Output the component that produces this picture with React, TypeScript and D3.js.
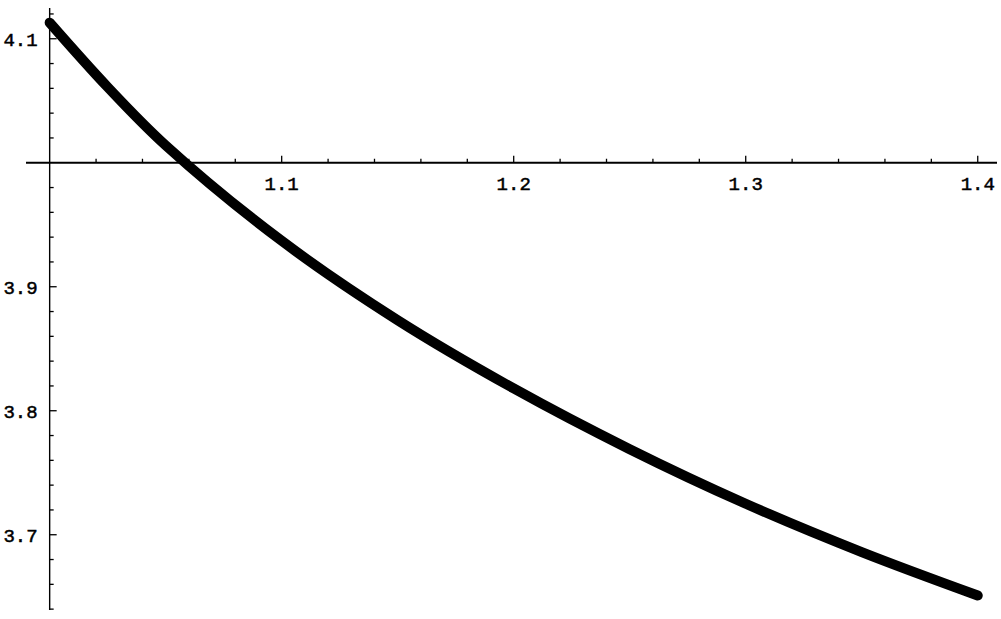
import React, { useEffect, useRef } from 'react';
import * as d3 from 'd3';

// Values
const xValues = [1.0, 1.025, 1.05, 1.1, 1.15, 1.2, 1.25, 1.3, 1.35, 1.4];
const yValues = [4.113, 4.061, 4.014, 3.937, 3.873, 3.818, 3.769, 3.725, 3.686, 3.651];

const xTickLabels = [1.1, 1.2, 1.3, 1.4];
const yTickLabels = [4.1, 3.9, 3.8, 3.7];

const App: React.FC = () => {
  const chartRef = useRef<SVGSVGElement | null>(null);

  useEffect(() => {
    if (!chartRef.current) return;
    d3.select(chartRef.current).selectAll('*').remove();

    const svgWidth = 1001;
    const svgHeight = 619;

    const svg = d3.select(chartRef.current)
      .attr('width', svgWidth)
      .attr('height', svgHeight);

    // Scales (pixel ranges match the plot frame)
    const xScale = d3.scaleLinear().domain([0.9898, 1.4083]).range([26, 997]);
    const yScale = d3.scaleLinear().domain([3.6393, 4.1248]).range([610, 8]);

    const x0 = xScale(1.0);
    const y0 = yScale(4.0);

    const fontFamily = '"Liberation Mono", "DejaVu Sans Mono", monospace';

    // X axis line (at y = 4.0)
    svg.append('line')
      .attr('x1', xScale.range()[0])
      .attr('x2', xScale.range()[1])
      .attr('y1', y0)
      .attr('y2', y0)
      .attr('stroke', '#000')
      .attr('stroke-width', 2);

    // Y axis line (at x = 1.0)
    svg.append('line')
      .attr('x1', x0)
      .attr('x2', x0)
      .attr('y1', yScale.range()[1])
      .attr('y2', yScale.range()[0])
      .attr('stroke', '#000')
      .attr('stroke-width', 1.4);

    // X ticks: minor every 0.02, major every 0.1
    const xTicks = d3.range(1.02, 1.4001, 0.02);
    svg.append('g')
      .selectAll('line')
      .data(xTicks)
      .enter()
      .append('line')
      .attr('x1', d => xScale(d))
      .attr('x2', d => xScale(d))
      .attr('y1', y0)
      .attr('y2', d => {
        const major = Math.abs(d * 10 - Math.round(d * 10)) < 1e-6;
        return y0 - (major ? 7 : 4);
      })
      .attr('stroke', '#000')
      .attr('stroke-width', 1.3);

    svg.append('g')
      .selectAll('text')
      .data(xTickLabels)
      .enter()
      .append('text')
      .attr('x', d => xScale(d))
      .attr('y', y0 + 27)
      .attr('text-anchor', 'middle')
      .style('font-family', fontFamily)
      .style('font-size', '19px')
      .style('stroke', '#000')
      .style('stroke-width', '0.5px')
      .text(d => d.toFixed(1));

    // Y ticks: minor every 0.02, major every 0.1
    const yTicks = d3.range(3.64, 4.1201, 0.02).filter(d => Math.abs(d - 4.0) > 1e-6);
    svg.append('g')
      .selectAll('line')
      .data(yTicks)
      .enter()
      .append('line')
      .attr('x1', x0)
      .attr('x2', d => {
        const major = Math.abs(d * 10 - Math.round(d * 10)) < 1e-6;
        return x0 + (major ? 7 : 4);
      })
      .attr('y1', d => yScale(d))
      .attr('y2', d => yScale(d))
      .attr('stroke', '#000')
      .attr('stroke-width', 1.3);

    svg.append('g')
      .selectAll('text')
      .data(yTickLabels)
      .enter()
      .append('text')
      .attr('x', x0 - 12)
      .attr('y', d => yScale(d) + 7)
      .attr('text-anchor', 'end')
      .style('font-family', fontFamily)
      .style('font-size', '19px')
      .style('stroke', '#000')
      .style('stroke-width', '0.5px')
      .text(d => d.toFixed(1));

    // The curve
    const points: [number, number][] = xValues.map((x, i) => [x, yValues[i]]);
    const line = d3.line<[number, number]>()
      .x(d => xScale(d[0]))
      .y(d => yScale(d[1]))
      .curve(d3.curveCatmullRom.alpha(0.5));

    svg.append('path')
      .datum(points)
      .attr('fill', 'none')
      .attr('stroke', '#000')
      .attr('stroke-width', 10)
      .attr('stroke-linecap', 'round')
      .attr('stroke-linejoin', 'round')
      .attr('d', line);
  }, []);

  return (
    <svg
      ref={chartRef}
      style={{ position: 'absolute', left: 0, top: 0, background: '#fff' }}
    ></svg>
  );
};

export default App;
